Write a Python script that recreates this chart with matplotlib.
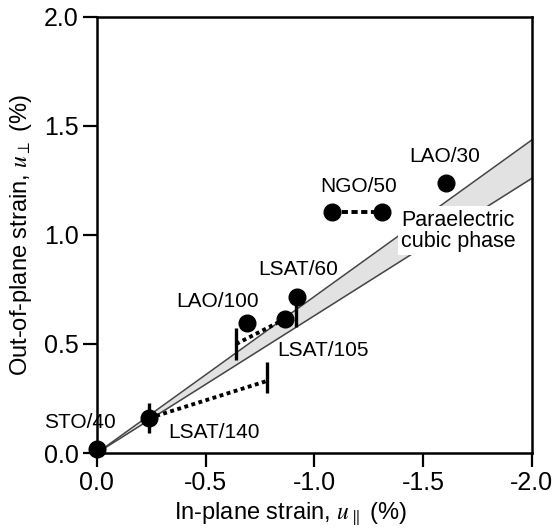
import matplotlib
matplotlib.use("Agg")
import matplotlib.pyplot as plt
import numpy as np

plt.rcParams['font.family'] = ['Liberation Sans', 'DejaVu Sans']
plt.rcParams['mathtext.fontset'] = 'stix'

# ---- data ----
pt_names = ["STO/40", "LSAT/140", "LAO/100", "LSAT/105", "LSAT/60", "NGO/50a", "NGO/50b", "LAO/30"]
pt_x = [0.0, -0.24, -0.69, -0.865, -0.92, -1.08, -1.31, -1.605]
pt_y = [0.02, 0.16, 0.595, 0.615, 0.715, 1.105, 1.105, 1.24]

# dotted range lines (start -> end)
rng_x0 = [-0.24, -0.64]
rng_y0 = [0.16, 0.50]
rng_x1 = [-0.78, -0.865]
rng_y1 = [0.33, 0.615]

# vertical bars (x, ymin, ymax)
bar_x = [-0.24, -0.78, -0.64, -0.915]
bar_lo = [0.09, 0.275, 0.427, 0.578]
bar_hi = [0.23, 0.417, 0.573, 0.70]

# NGO/50 dashed link
ngo_x = [-1.08, -1.31]
ngo_y = [1.105, 1.105]

# paraelectric cubic phase band slopes (u_perp = -k * u_par)
band_k_upper = 0.718
band_k_lower = 0.63

labels = ["STO/40", "LSAT/140", "LAO/100", "LSAT/105", "LSAT/60", "NGO/50", "LAO/30"]
lab_x = [0.078, -0.54, -0.556, -1.04, -0.924, -1.205, -1.60]
lab_y = [0.138, 0.092, 0.693, 0.468, 0.84, 1.22, 1.358]

xticks = [0.0, -0.5, -1.0, -1.5, -2.0]
yticks = [0.0, 0.5, 1.0, 1.5, 2.0]

fig = plt.figure(figsize=(5.57, 5.28), dpi=100)
ax = fig.add_axes([0.174, 0.142, 0.781, 0.826])

# band
xb = np.array([0.0, -2.0])
ax.fill_between(xb, -band_k_lower * xb, -band_k_upper * xb, color='#e2e2e2', lw=0, zorder=1)
ax.plot(xb, -band_k_upper * xb, color='#444444', lw=1.1, zorder=2)
ax.plot(xb, -band_k_lower * xb, color='#444444', lw=1.1, zorder=2)

ax.text(-1.40, 1.02, "Paraelectric\ncubic phase", fontsize=15.5, ha='left', va='center',
        linespacing=1.0, zorder=3,
        bbox=dict(boxstyle='square,pad=0.15', fc='white', ec='none'))

# dotted range lines
for x0, y0, x1, y1 in zip(rng_x0, rng_y0, rng_x1, rng_y1):
    ax.plot([x0, x1], [y0, y1], color='black', lw=2.8, ls=(0, (1.0, 0.9)), zorder=4)

# bars
ax.vlines(bar_x, bar_lo, bar_hi, color='black', lw=2.4, zorder=4)

# NGO dashed
ax.plot(ngo_x, ngo_y, color='black', lw=2.8, ls=(0, (1.6, 0.9)), zorder=4)

# points
ax.plot(pt_x, pt_y, 'o', color='black', ms=12, zorder=5, clip_on=False)

for t, x, y in zip(labels, lab_x, lab_y):
    ax.text(x, y, t, fontsize=15, ha='center', va='center', zorder=6, clip_on=False)

ax.set_xlim(0.0, -2.0)
ax.set_ylim(0.0, 2.0)
ax.set_xticks(xticks)
ax.set_yticks(yticks)
ax.set_xticklabels([f"{v:.1f}" for v in xticks])
ax.set_yticklabels([f"{v:.1f}" for v in yticks])
ax.tick_params(direction='out', length=10, width=1.6, labelsize=18, pad=3)
for s in ax.spines.values():
    s.set_linewidth(1.8)

ax.set_xlabel(r"In-plane strain, $u_{\parallel}$ (%)", fontsize=17)
ax.set_ylabel(r"Out-of-plane strain, $u_{\perp}$ (%)", fontsize=17)
ax.xaxis.set_label_coords(0.445, -0.108)
ax.yaxis.set_label_coords(-0.145, 0.5)

fig.savefig("out.png", dpi=100)
